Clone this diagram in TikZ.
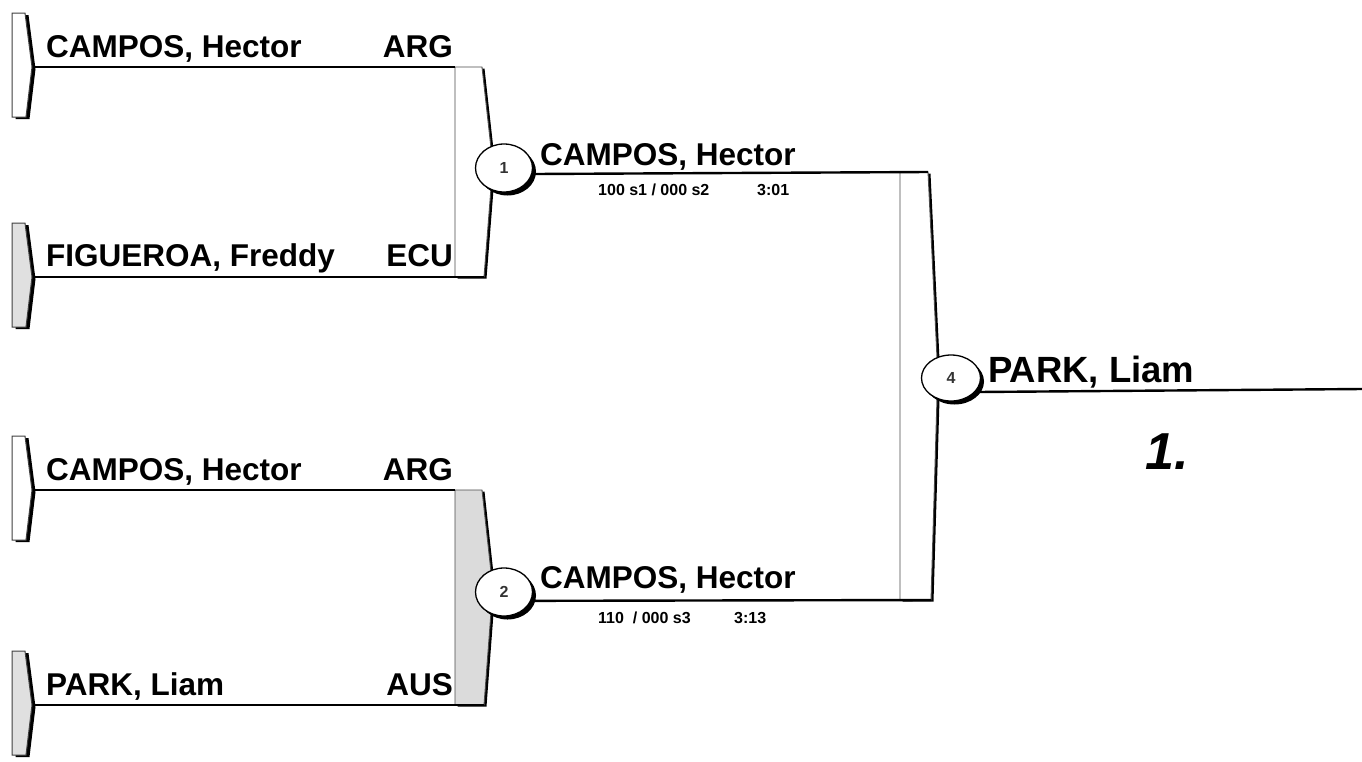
\documentclass[tikz,border=0pt]{standalone}
\usepackage{fontspec}
\setmainfont{Liberation Sans}
\usetikzlibrary{shapes.geometric,calc}
\newcommand\seedbox[2]{%
 \begin{scope}[shift={(0,#1)}]
  \fill[black, shift={(3.5,2)}] (12,-54) -- (25,-54) -- (32,0) -- (26,50) -- (12,50) -- cycle;
  \filldraw[fill=#2, draw=black!75, line width=1pt] (12,-54) -- (25,-54) -- (32,0) -- (26,50) -- (12,50) -- cycle;
 \end{scope}}
\begin{document}
\begin{tikzpicture}[x=1pt,y=-1pt,
  nm/.style={font=\fontsize{31.5}{34}\selectfont\bfseries, inner sep=0pt},
  bignm/.style={font=\fontsize{36.5}{40}\selectfont\bfseries, inner sep=0pt},
  sm/.style={font=\fontsize{16}{18}\selectfont\bfseries, inner sep=0pt},
  wire/.style={line width=2.4pt, draw=black},
  edge/.style={line width=0.9pt, draw=black!70},
  bracketshadow/.style={fill=black},
  matchcircle/.style={ellipse, draw=black, line width=1.3pt, fill=white, inner sep=0pt,
     font=\fontsize{16}{18}\selectfont\bfseries, text=black!80},
  circshadow/.style={ellipse, fill=black, inner sep=0pt}
]
\useasboundingbox (0,0) rectangle (1362,761);
\fill[white] (0,0) rectangle (1362,761);

% seed boxes
\seedbox{67}{white}
\seedbox{277}{black!12}
\seedbox{490}{white}
\seedbox{705}{black!12}
\coordinate (s1) at (33,67);
\coordinate (s2) at (33,277);
\coordinate (s3) at (33,490);
\coordinate (s4) at (33,705);

% bracket 1
\fill[bracketshadow, shift={(2.5,1.5)}] (455,67) -- (482,67) -- (491,148) -- (491,188) -- (484,277) -- (455,277) -- cycle;
\filldraw[fill=white, edge] (455,67) -- (482,67) -- (491,148) -- (491,188) -- (484,277) -- (455,277) -- cycle;
\coordinate (b1t) at (455,67);
\coordinate (b1b) at (484,277);
% bracket 2
\fill[bracketshadow, shift={(2.5,1.5)}] (455,490) -- (482,490) -- (491,572) -- (491,612) -- (484,705) -- (455,705) -- cycle;
\filldraw[fill=black!14, edge] (455,490) -- (482,490) -- (491,572) -- (491,612) -- (484,705) -- (455,705) -- cycle;
\coordinate (b2t) at (455,490);
\coordinate (b2b) at (484,705);
% bracket 4
\fill[bracketshadow, shift={(2.5,1.5)}] (900,172) -- (928,172) -- (937,358) -- (937,398) -- (931,600) -- (900,600) -- cycle;
\filldraw[fill=white, edge] (900,172) -- (928,172) -- (937,358) -- (937,398) -- (931,600) -- (900,600) -- cycle;
\coordinate (b4t) at (928,172);
\coordinate (b4b) at (931,600);

% wires from seeds
\draw[wire] (s1) -- (b1t);
\draw[wire] (s2) -- (b1b);
\draw[wire] (s3) -- (b2t);
\draw[wire] (s4) -- (b2b);

% match circles
\node[circshadow, minimum width=57pt, minimum height=48pt] at (507.5,171.5) {};
\node[matchcircle, minimum width=57pt, minimum height=48pt] (m1) at (504,168) {1};
\node[circshadow, minimum width=57pt, minimum height=48pt] at (507.5,595.5) {};
\node[matchcircle, minimum width=57pt, minimum height=48pt] (m2) at (504,592) {2};
\node[circshadow, minimum width=59pt, minimum height=46pt] at (954.5,381.5) {};
\node[matchcircle, minimum width=59pt, minimum height=46pt] (m4) at (951,378) {4};

\coordinate (fin) at (1362,389);
\draw[wire] (m1.-12) -- (b4t);
\draw[wire] (m2.-18) -- (b4b);
\draw[wire] (m4.-30) -- (fin);

% names
\node[nm, anchor=base west] (n1) at (46,57) {CAMPOS, Hector};
\node[nm, anchor=base east] (c1) at (453,57) {ARG};
\node[nm, anchor=base west] (n2) at (46,266) {FIGUEROA, Freddy};
\node[nm, anchor=base east] (c2) at (453,266) {ECU};
\node[nm, anchor=base west] (n3) at (46,480) {CAMPOS, Hector};
\node[nm, anchor=base east] (c3) at (453,480) {ARG};
\node[nm, anchor=base west] (n4) at (46,695) {PARK, Liam};
\node[nm, anchor=base east] (c4) at (453,695) {AUS};

\node[nm, anchor=base west] (w1) at (540,165) {CAMPOS, Hector};
\node[sm, anchor=base west] (r1) at (598,195) {100 s1 / 000 s2};
\node[sm, anchor=base west] (t1) at (757,195) {3:01};
\node[nm, anchor=base west] (w2) at (540,588) {CAMPOS, Hector};
\node[sm, anchor=base west] (r2) at (598,623) {110\ \ / 000 s3};
\node[sm, anchor=base west] (t2) at (734,623) {3:13};

\node[bignm, anchor=base west] (w4) at (988,382) {PARK, Liam};
\node[font=\fontsize{52}{56}\selectfont\bfseries\itshape, inner sep=0pt, anchor=base west] (pl) at (1145,469) {1.};
\end{tikzpicture}
\end{document}
